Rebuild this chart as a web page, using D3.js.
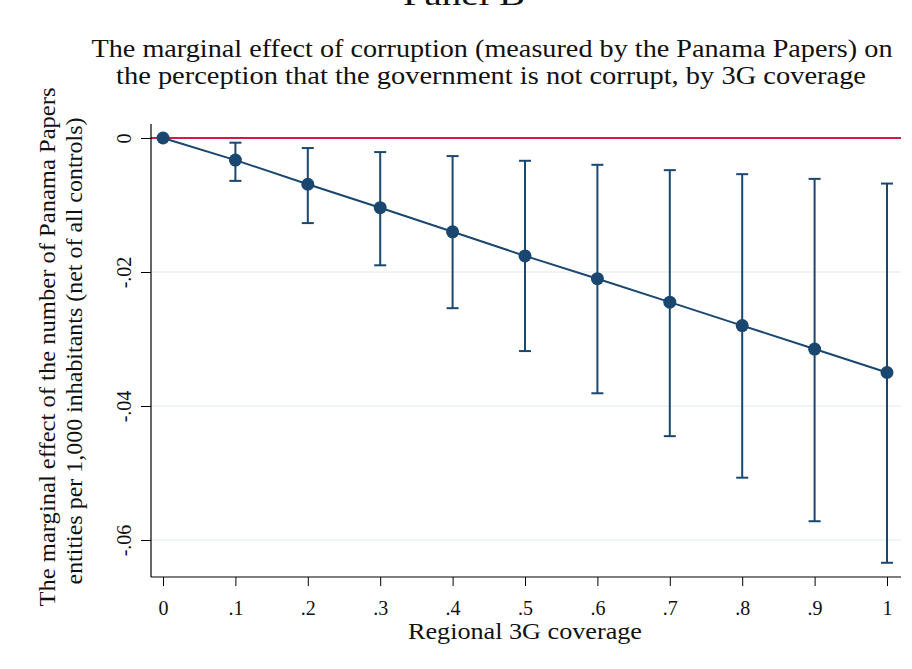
<!DOCTYPE html>
<html><head><meta charset="utf-8">
<script src="https://cdn.jsdelivr.net/npm/d3@7"></script>
<style>body{margin:0;background:#fff}svg{display:block}</style>
</head><body>
<svg id="c" width="912" height="669"></svg>
<script>
const coverage = [0, .1, .2, .3, .4, .5, .6, .7, .8, .9, 1];
const effect = [0, -0.0033, -0.0069, -0.0104, -0.0140, -0.0176, -0.0210, -0.0245, -0.0280, -0.0315, -0.0350];
const ciUpper = [0, -0.0007, -0.0015, -0.0021, -0.0027, -0.0034, -0.0040, -0.0048, -0.0054, -0.0061, -0.0068];
const ciLower = [0, -0.0064, -0.0127, -0.0190, -0.0254, -0.0318, -0.0381, -0.0445, -0.0507, -0.0572, -0.0634];
const xTicks = [0, .1, .2, .3, .4, .5, .6, .7, .8, .9, 1];
const xTickLabels = ["0", ".1", ".2", ".3", ".4", ".5", ".6", ".7", ".8", ".9", "1"];
const yTicks = [0, -0.02, -0.04, -0.06];
const yTickLabels = ["0", "-.02", "-.04", "-.06"];

const FONT = "'Liberation Serif', 'DejaVu Serif', serif";
const navy = "#1a476f";
const svg = d3.select("#c");
const x = d3.scaleLinear().domain([0, 1]).range([163, 887]);
const y = d3.scaleLinear().domain([0, -0.06]).range([138, 540]);
const xL = 151, xR = 901, yT = 124, yB = 577;

function txt(sel, s, size, len) {
  sel.style("font-family", FONT).style("font-size", size + "px").attr("fill", "#111")
    .attr("textLength", len).attr("lengthAdjust", "spacingAndGlyphs").text(s);
}

// panel label (cut off at top, as in the reference)
txt(svg.append("text").attr("x", 464).attr("y", 5).attr("text-anchor", "middle"), "Panel B", 30, 122);

// title
const title = ["The marginal effect of corruption (measured by the Panama Papers) on",
               "the perception that the government is not corrupt, by 3G coverage"];
txt(svg.append("text").attr("x", 492).attr("y", 57).attr("text-anchor", "middle"), title[0], 26, 801);
txt(svg.append("text").attr("x", 491).attr("y", 84).attr("text-anchor", "middle"), title[1], 26, 750);

// gridlines
svg.append("g").selectAll("line").data(yTicks.filter(d => d !== 0)).join("line")
  .attr("x1", xL).attr("x2", xR).attr("y1", d => y(d)).attr("y2", d => y(d))
  .attr("stroke", "#eaf2f3").attr("stroke-width", 1.5);

// zero reference line
svg.append("line").attr("x1", xL).attr("x2", xR).attr("y1", y(0)).attr("y2", y(0))
  .attr("stroke", "#d01c46").attr("stroke-width", 1.8);

// axes
const gx = svg.append("g").attr("transform", `translate(0,${yB})`)
  .call(d3.axisBottom(x).tickValues(xTicks).tickFormat((d, i) => xTickLabels[i]).tickSize(9).tickSizeOuter(0).tickPadding(15));
gx.select(".domain").attr("d", `M${xL},0H${xR}`).attr("stroke", "#000").attr("stroke-width", 1.2);
gx.selectAll(".tick line").attr("stroke", "#000");
gx.selectAll(".tick text").style("font-family", FONT).style("font-size", "20px").attr("fill", "#111");

const gy = svg.append("g").attr("transform", `translate(${xL},0)`)
  .call(d3.axisLeft(y).tickValues(yTicks).tickFormat((d, i) => yTickLabels[i]).tickSize(10).tickSizeOuter(0));
gy.select(".domain").attr("d", `M0,${yT}V${yB}`).attr("stroke", "#000").attr("stroke-width", 1.2);
gy.selectAll(".tick line").attr("stroke", "#000");
gy.selectAll(".tick text").attr("x", null).attr("dy", null)
  .attr("transform", "translate(-20,0) rotate(-90)")
  .attr("text-anchor", "middle")
  .style("font-family", FONT).style("font-size", "20px").attr("fill", "#111");

// error bars
const idx = d3.range(coverage.length).filter(i => i > 0);
const eb = svg.append("g").attr("stroke", navy).attr("stroke-width", 2);
eb.selectAll("line.v").data(idx).join("line").attr("class", "v")
  .attr("x1", i => x(coverage[i])).attr("x2", i => x(coverage[i]))
  .attr("y1", i => y(ciUpper[i])).attr("y2", i => y(ciLower[i]));
eb.selectAll("line.u").data(idx).join("line").attr("class", "u")
  .attr("x1", i => x(coverage[i]) - 6).attr("x2", i => x(coverage[i]) + 6)
  .attr("y1", i => y(ciUpper[i])).attr("y2", i => y(ciUpper[i]));
eb.selectAll("line.l").data(idx).join("line").attr("class", "l")
  .attr("x1", i => x(coverage[i]) - 6).attr("x2", i => x(coverage[i]) + 6)
  .attr("y1", i => y(ciLower[i])).attr("y2", i => y(ciLower[i]));

// line + points
const pts = coverage.map((c, i) => [c, effect[i]]);
svg.append("path").datum(pts)
  .attr("d", d3.line().x(d => x(d[0])).y(d => y(d[1])))
  .attr("fill", "none").attr("stroke", navy).attr("stroke-width", 2);
svg.append("g").selectAll("circle").data(pts).join("circle")
  .attr("cx", d => x(d[0])).attr("cy", d => y(d[1])).attr("r", 6.5).attr("fill", navy);

// axis titles
txt(svg.append("text").attr("x", 525).attr("y", 639).attr("text-anchor", "middle"), "Regional 3G coverage", 24, 234);
const yt = ["The marginal effect of the number of Panama Papers",
            "entities per 1,000 inhabitants (net of all controls)"];
txt(svg.append("text").attr("transform", "translate(55,347) rotate(-90)").attr("text-anchor", "middle"), yt[0], 23, 519);
txt(svg.append("text").attr("transform", "translate(82,351) rotate(-90)").attr("text-anchor", "middle"), yt[1], 23, 467);
</script>
</body></html>
